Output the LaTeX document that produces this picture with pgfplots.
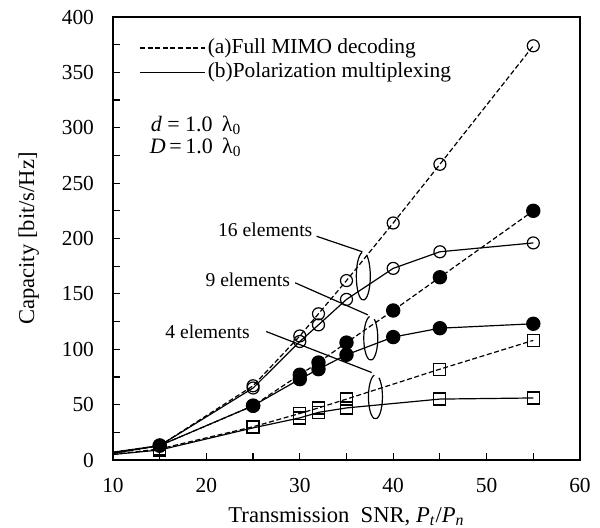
\documentclass[border=0pt]{standalone}
\usepackage{fontspec}
\setmainfont{Liberation Serif}
\usepackage{pgfplots}
\pgfplotsset{compat=1.18}
\usetikzlibrary{calc}
\tikzset{mydash/.style={dash pattern=on 2.5pt off 1.3pt}}

\begin{document}
\begin{tikzpicture}
\begin{axis}[
	scale only axis,
	width=233.5pt, height=221.5pt,
	xmin=10, xmax=60, ymin=0, ymax=400,
	xtick={10,20,...,60}, ytick={0,50,...,400},
	minor x tick num=1, minor y tick num=1,
	tick pos=left, tick align=inside,
	major tick length=3.5pt, minor tick length=3.5pt,
	every tick/.style={black, line width=0.6pt},
	axis line style={line width=0.7pt},
	/pgf/number format/assume math mode=true,
	ticklabel style={font=\fontsize{10.7}{12}\selectfont},
	yticklabel style={xshift=-6pt},
	xticklabel style={yshift=-5.5pt},
	xlabel={Transmission\ \ SNR, \textit{P}\textsubscript{\textit{t}}/\textit{P}\textsubscript{\textit{n}}},
	ylabel={Capacity [bit/s/Hz]},
	label style={font=\fontsize{11.3}{13}\selectfont},
	ylabel style={yshift=4.5pt},
	xlabel style={yshift=-0.5pt},
	clip=false,
	every axis plot/.append style={black, line width=0.6pt},
]
% 16 elements (open circles)
\addplot[mydash, mark=o, mark size=3pt, mark indices={2,3,4,5,6,7,8,9}, mark options={solid}] coordinates {
	(10,7) (15,13) (25,67) (30,112) (32,132) (35,162) (40,214) (45,267) (55,374)};
\addplot[mark=o, mark size=3pt, mark indices={2,3,4,5,6,7,8,9}] coordinates {
	(10,7) (15,13) (25,65) (30,107) (32,122) (35,145) (40,173) (45,188) (55,196)};
% 9 elements (filled circles)
\addplot[mydash, mark=*, mark size=3.3pt, mark indices={2,3,4,5,6,7,8,9}, mark options={solid}] coordinates {
	(10,6) (15,13) (25,49) (30,77) (32,88) (35,106) (40,135) (45,165) (55,225)};
\addplot[mark=*, mark size=3.3pt, mark indices={2,3,4,5,6,7,8,9}] coordinates {
	(10,6) (15,13) (25,49) (30,73) (32,82) (35,95) (40,111) (45,119) (55,123)};
% 4 elements (squares)
\addplot[mydash, mark=square, mark size=3pt, mark indices={2,3,4,5,6,7,8}, mark options={solid}] coordinates {
	(10,5) (15,10) (25,30) (30,42) (32,47) (35,55) (45,82) (55,108)};
\addplot[mark=square, mark size=3pt, mark indices={2,3,4,5,6,7,8}] coordinates {
	(10,5) (15,9) (25,29) (30,38) (32,43) (35,47) (45,55) (55,56)};

% legend
\draw[mydash, line width=0.6pt] (axis cs:12.9,372) -- (axis cs:19.9,372);
\node[anchor=west, inner sep=1pt, font=\fontsize{10.7}{12}\selectfont] at (axis cs:19.9,372) {(a)Full MIMO decoding};
\draw[line width=0.6pt] (axis cs:12.9,350) -- (axis cs:19.9,350);
\node[anchor=west, inner sep=1pt, font=\fontsize{10.7}{12}\selectfont] at (axis cs:19.9,350) {(b)Polarization multiplexing};

% parameters
\node[anchor=west, inner sep=0pt, font=\fontsize{11}{12}\selectfont] at (axis cs:14.0,302) {\textit{d} = 1.0\ \,λ\textsubscript{0}};
\node[anchor=west, inner sep=0pt, font=\fontsize{11}{12}\selectfont] at (axis cs:13.9,282) {\textit{D}\,=\,1.0\ \,λ\textsubscript{0}};

% element annotations
\node[anchor=east, inner sep=1pt, font=\fontsize{9.8}{11}\selectfont] at (axis cs:31.6,208) {16 elements};
\draw[line width=0.6pt] (axis cs:31.8,202) -- (axis cs:36.7,188);
\draw[line width=0.6pt] (axis cs:36.8,166) ++(100:3.5pt and 12pt) arc[start angle=100, end angle=420, x radius=3.5pt, y radius=12pt];

\node[anchor=east, inner sep=1pt, font=\fontsize{9.8}{11}\selectfont] at (axis cs:29.2,163) {9 elements};
\draw[line width=0.6pt] (axis cs:29.5,160) -- (axis cs:37.3,131);
\draw[line width=0.6pt] (axis cs:37.6,110) ++(100:3.5pt and 11pt) arc[start angle=100, end angle=420, x radius=3.5pt, y radius=11pt];

\node[anchor=east, inner sep=1pt, font=\fontsize{9.8}{11}\selectfont] at (axis cs:24.9,116) {4 elements};
\draw[line width=0.6pt] (axis cs:26.4,116) -- (axis cs:37.7,79);
\draw[line width=0.6pt] (axis cs:38.1,57) ++(100:3.5pt and 11pt) arc[start angle=100, end angle=420, x radius=3.5pt, y radius=11pt];
\end{axis}
\pgfresetboundingbox
\useasboundingbox ($(current axis.south west)+(-56.5pt,-34pt)$) rectangle ($(current axis.north east)+(10pt,8.5pt)$);
\end{tikzpicture}
\end{document}
